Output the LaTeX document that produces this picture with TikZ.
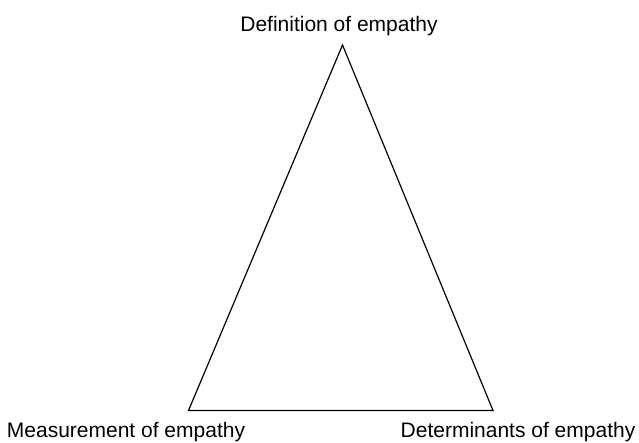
\documentclass[tikz,border=0pt]{standalone}
\usepackage{fontspec}
\setmainfont{Liberation Sans}
\begin{document}
\begin{tikzpicture}[x=1pt,y=1pt,
  lbl/.style={anchor=base,inner sep=0pt,font=\fontsize{21}{24}\selectfont},
  edge/.style={line width=1.2pt,line join=miter}]
\useasboundingbox (0,0) rectangle (639,442);
\coordinate (top) at (342.5,397);
\coordinate (bl) at (188.5,31.5);
\coordinate (br) at (493,31.5);
\draw[edge] (top) -- (br) -- (bl) -- cycle;
\node[lbl] (def) at (339,410) {Definition of empathy};
\node[lbl] (meas) at (126,5) {Measurement of empathy};
\node[lbl] (det) at (518,5) {Determinants of empathy};
\end{tikzpicture}
\end{document}
